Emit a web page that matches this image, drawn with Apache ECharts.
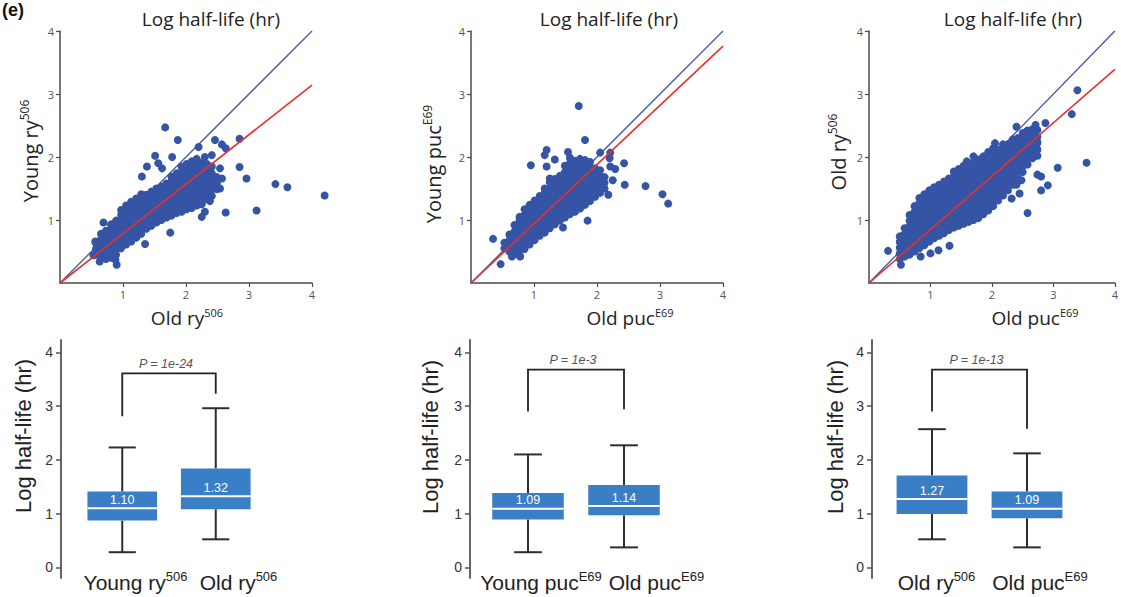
<!DOCTYPE html>
<html>
<head>
<meta charset="utf-8">
<script src="https://cdn.jsdelivr.net/npm/echarts@6/dist/echarts.min.js"></script>
<style>html,body{margin:0;padding:0;background:#fff}#c{width:1121px;height:597px}</style>
</head>
<body>
<div id="c"></div>
<script>
// ---------- DATA ----------
// Panel 1: Old ry506 (x) vs Young ry506 (y) — dense cloud as columns [x,[y...]] + outliers
const ryBlob = [
  [0.57,[0.45,0.54,0.63]],
  [0.65,[0.42,0.51,0.60,0.69,0.78]],
  [0.73,[0.38,0.47,0.57,0.66,0.74,0.83]],
  [0.81,[0.40,0.50,0.58,0.67,0.77,0.86,0.93]],
  [0.89,[0.45,0.54,0.64,0.72,0.81,0.91,0.99]],
  [0.97,[0.55,0.63,0.72,0.82,0.90,1.00,1.08,1.16]],
  [1.05,[0.61,0.70,0.78,0.88,0.96,1.05,1.15,1.23]],
  [1.13,[0.66,0.76,0.85,0.93,1.03,1.11,1.20,1.29]],
  [1.21,[0.72,0.80,0.90,0.98,1.08,1.17,1.25,1.34]],
  [1.29,[0.78,0.88,0.96,1.06,1.14,1.24,1.32,1.41]],
  [1.37,[0.86,0.94,1.04,1.12,1.22,1.30,1.40]],
  [1.45,[0.91,1.01,1.09,1.19,1.27,1.37,1.45]],
  [1.53,[0.96,1.04,1.14,1.22,1.32,1.40,1.50]],
  [1.61,[1.00,1.10,1.18,1.28,1.36,1.46,1.53]],
  [1.69,[1.04,1.12,1.22,1.30,1.40,1.48,1.58]],
  [1.77,[1.07,1.17,1.25,1.35,1.43,1.53,1.61,1.69]],
  [1.85,[1.11,1.19,1.29,1.37,1.47,1.55,1.65,1.74]],
  [1.93,[1.13,1.23,1.31,1.41,1.49,1.59,1.67,1.77,1.85]],
  [2.01,[1.17,1.25,1.35,1.43,1.53,1.61,1.71,1.79,1.89]],
  [2.09,[1.19,1.29,1.37,1.47,1.55,1.65,1.73,1.83,1.93]],
  [2.17,[1.23,1.31,1.41,1.49,1.59,1.67,1.77,1.86,1.97]],
  [2.25,[1.25,1.35,1.43,1.53,1.61,1.71,1.80,1.91]],
  [2.33,[1.33,1.41,1.51,1.59,1.69,1.78,1.89]],
  [2.41,[1.38,1.48,1.56,1.66,1.74,1.85]],
  [2.49,[1.49,1.58,1.68]]
];
const ryOutliers = [
  [1.67,2.47],[1.87,2.27],[2.46,2.27],[2.57,2.20],[2.85,2.29],[2.20,2.16],[1.78,2.00],[1.51,2.02],
  [1.56,1.90],[1.62,1.82],[1.38,1.85],[1.30,1.69],[2.85,1.84],[2.96,1.66],[3.42,1.57],[3.61,1.52],
  [4.20,1.39],[3.12,1.15],[2.63,1.12],[2.25,1.05],[2.30,1.13],[1.75,0.80],[1.35,0.62],[0.69,0.96],
  [2.54,1.50],[2.57,1.66],[2.54,1.82],[2.63,2.14],[2.41,2.03],[2.30,2.00],[2.38,1.30],[0.90,0.29],
  [0.88,0.37],[0.78,0.45],[0.63,0.34],[0.56,0.66],[0.63,0.66],[0.53,0.44]
];
// Panel 2: Old pucE69 (x) vs Young pucE69 (y)
const pucBlob = [
  [0.53,[0.55,0.64]],
  [0.61,[0.50,0.59,0.68,0.77]],
  [0.69,[0.46,0.55,0.64,0.73,0.82,0.92]],
  [0.77,[0.45,0.54,0.63,0.72,0.81,0.90,0.99,1.05]],
  [0.85,[0.54,0.63,0.72,0.81,0.90,0.99,1.08,1.17]],
  [0.93,[0.61,0.70,0.79,0.88,0.97,1.06,1.15,1.24]],
  [1.01,[0.68,0.77,0.86,0.95,1.04,1.13,1.22,1.31]],
  [1.09,[0.75,0.84,0.93,1.02,1.11,1.20,1.29,1.38]],
  [1.17,[0.80,0.89,0.98,1.07,1.16,1.25,1.34,1.43,1.50]],
  [1.25,[0.87,0.96,1.05,1.14,1.23,1.32,1.41,1.50,1.60,1.66]],
  [1.33,[0.93,1.02,1.11,1.20,1.29,1.38,1.47,1.56,1.65]],
  [1.41,[0.99,1.08,1.17,1.26,1.35,1.44,1.53,1.62,1.70]],
  [1.49,[1.04,1.13,1.22,1.31,1.40,1.49,1.58,1.67,1.76,1.86]],
  [1.57,[1.09,1.18,1.27,1.36,1.45,1.54,1.63,1.72,1.81,1.90,1.99]],
  [1.65,[1.13,1.22,1.31,1.40,1.49,1.58,1.67,1.76,1.85,1.94]],
  [1.73,[1.18,1.27,1.36,1.45,1.54,1.63,1.72,1.81,1.90,1.97]],
  [1.81,[1.24,1.33,1.42,1.51,1.60,1.69,1.78,1.87,1.95]],
  [1.89,[1.30,1.39,1.48,1.57,1.66,1.75,1.84,1.92]],
  [1.97,[1.37,1.46,1.55,1.64,1.73,1.82]],
  [2.05,[1.43,1.52,1.61,1.70,1.79]],
  [2.12,[1.50,1.59,1.68]]
];
const pucOutliers = [
  [1.71,2.81],[1.81,2.27],[1.20,2.11],[1.17,2.03],[1.33,1.96],[0.95,1.87],[1.20,1.85],[1.54,2.08],
  [2.05,2.07],[2.21,2.07],[2.20,1.98],[2.43,1.90],[2.21,1.85],[2.29,1.81],[2.25,1.63],[2.44,1.56],
  [2.77,1.54],[3.04,1.41],[3.13,1.26],[1.85,0.99],[1.46,0.88],[0.35,0.70],[0.47,0.30],[0.78,0.42],
  [0.65,0.42],[2.18,1.40]
];
// Panel 3: Old pucE69 (x) vs Old ry506 (y)
const oldBlob = [
  [0.50,[0.38,0.47,0.56,0.65,0.74]],
  [0.58,[0.42,0.51,0.60,0.69,0.78,0.87]],
  [0.66,[0.45,0.54,0.63,0.72,0.81,0.90,0.99,1.08]],
  [0.74,[0.50,0.59,0.68,0.77,0.86,0.95,1.04,1.13,1.22]],
  [0.82,[0.55,0.64,0.73,0.82,0.91,1.00,1.09,1.18,1.27,1.35]],
  [0.90,[0.60,0.69,0.78,0.87,0.96,1.05,1.14,1.23,1.32,1.41]],
  [0.98,[0.66,0.75,0.84,0.93,1.02,1.11,1.20,1.29,1.38,1.47]],
  [1.06,[0.71,0.80,0.89,0.98,1.07,1.16,1.25,1.34,1.43,1.52]],
  [1.14,[0.75,0.84,0.93,1.02,1.11,1.20,1.29,1.38,1.47,1.56]],
  [1.22,[0.79,0.88,0.97,1.06,1.15,1.24,1.33,1.42,1.51,1.61]],
  [1.30,[0.84,0.93,1.02,1.11,1.20,1.29,1.38,1.47,1.56,1.66]],
  [1.38,[0.88,0.97,1.06,1.15,1.24,1.33,1.42,1.51,1.60,1.69,1.77]],
  [1.46,[0.91,1.00,1.09,1.18,1.27,1.36,1.45,1.54,1.63,1.72,1.81]],
  [1.54,[0.94,1.03,1.12,1.21,1.30,1.39,1.48,1.57,1.66,1.75,1.86]],
  [1.62,[0.97,1.06,1.15,1.24,1.33,1.42,1.51,1.60,1.69,1.78,1.90]],
  [1.70,[1.00,1.09,1.18,1.27,1.36,1.45,1.54,1.63,1.72,1.81,1.92,2.01]],
  [1.78,[1.03,1.12,1.21,1.30,1.39,1.48,1.57,1.66,1.75,1.85,1.96]],
  [1.86,[1.09,1.18,1.27,1.36,1.45,1.54,1.63,1.72,1.81,1.91,2.01]],
  [1.94,[1.15,1.24,1.33,1.42,1.51,1.60,1.69,1.78,1.87,1.97,2.08]],
  [2.02,[1.22,1.31,1.40,1.49,1.58,1.67,1.76,1.85,1.94,2.05,2.14]],
  [2.10,[1.31,1.40,1.49,1.58,1.67,1.76,1.85,1.94,2.03,2.12]],
  [2.18,[1.39,1.48,1.57,1.66,1.75,1.84,1.93,2.02,2.11,2.20]],
  [2.26,[1.47,1.56,1.65,1.74,1.83,1.92,2.01,2.10,2.20]],
  [2.34,[1.56,1.65,1.74,1.83,1.92,2.01,2.10,2.19,2.28]],
  [2.42,[1.66,1.75,1.84,1.93,2.02,2.11,2.20,2.30]],
  [2.50,[1.76,1.85,1.94,2.03,2.12,2.21,2.31,2.38]],
  [2.58,[1.88,1.97,2.06,2.15,2.24,2.33,2.42]],
  [2.66,[1.98,2.07,2.16,2.25,2.35,2.44]],
  [2.74,[2.02,2.12,2.22,2.32,2.43]]
];
const oldOutliers = [
  [3.39,3.06],[3.30,2.68],[3.54,1.91],[3.07,1.83],[2.74,1.72],[2.80,1.69],[2.91,1.55],[2.80,1.47],
  [2.58,1.11],[2.45,1.42],[2.32,1.34],[2.48,1.63],[2.40,2.48],[2.56,2.40],[2.71,2.51],[2.87,2.54],
  [2.05,2.22],[1.59,1.93],[1.31,0.59],[1.00,0.47],[0.84,0.42],[0.31,0.51],[0.52,0.29],[1.13,0.52],
  [2.48,1.92],[2.40,1.56],[2.74,2.24]
];
// identity line and fitted (red) line value at x = 4
const identityEnd = [4, 4, 4];
const fitEnd = [3.14, 3.76, 3.39];
const scatterTicks = [1, 2, 3, 4];

// Box plots: [min, Q1, median, Q3, max]
const boxRy  = [[0.28,0.87,1.10,1.41,2.23],[0.52,1.08,1.32,1.84,2.96]];
const boxPuc = [[0.28,0.89,1.09,1.38,2.10],[0.37,0.97,1.14,1.53,2.27]];
const boxOld = [[0.52,0.99,1.27,1.71,2.57],[0.37,0.91,1.09,1.41,2.12]];
// Significance bracket: [top, left leg end, right leg end]
const bracketRy  = [3.61, 2.81, 3.23];
const bracketPuc = [3.68, 2.90, 2.94];
const bracketOld = [3.68, 2.90, 2.58];
const pLabels = ['P = 1e-24', 'P = 1e-3', 'P = 1e-13'];
const boxTicks = [0, 1, 2, 3, 4];

const boxCatMain = [['Young ry','Old ry'],['Young puc','Old puc'],['Old ry','Old puc']];
const boxCatSup  = [['506','506'],['E69','E69'],['506','E69']];
const scatterXMain = ['Old ry','Old puc','Old puc'];
const scatterXSup  = ['506','E69','E69'];
const scatterYMain = ['Young ry','Young puc','Old ry'];
const scatterYSup  = ['506','E69','506'];
const titleText = 'Log half-life (hr)';
const boxYName = 'Log half-life (hr)';

// ---------- BUILD ----------
function expand(cols, outs) {
  const pts = [];
  cols.forEach(c => c[1].forEach(y => pts.push([c[0], y])));
  return pts.concat(outs);
}
const scatterSets = [expand(ryBlob, ryOutliers), expand(pucBlob, pucOutliers), expand(oldBlob, oldOutliers)];
const boxSets = [boxRy, boxPuc, boxOld];
const bracketSets = [bracketRy, bracketPuc, bracketOld];

const TOPF = '"Open Sans", "DejaVu Sans", sans-serif';
const BOTF = '"Liberation Sans", Arial, sans-serif';
const DOT = '#3654a5';
const BOXC = '#3a7ec6';

const grids = [
  {left:60, top:31, width:252, height:252},
  {left:471, top:31, width:252, height:252},
  {left:869, top:31, width:251, height:252},
  {left:75.5, top:340, width:187, height:238},
  {left:480, top:340, width:192, height:238},
  {left:884.5, top:340, width:190, height:238}
];
const yOffsets = [14.5, 10, 12.5];

const xAxis = [], yAxis = [], series = [];
for (let i = 0; i < 3; i++) {
  const axLine = {lineStyle:{color:'#4a4a4a', width:1.5}};
  xAxis.push({
    gridIndex:i, type:'value', min:0, max:4, interval:1,
    axisLine:axLine,
    axisTick:{show:true, customValues:scatterTicks, length:4, lineStyle:{color:'#4a4a4a', width:1.2}},
    axisLabel:{customValues:scatterTicks, fontSize:11, color:'#555', margin:6, fontFamily:TOPF},
    splitLine:{show:false}
  });
  yAxis.push({
    gridIndex:i, type:'value', min:0, max:4, interval:1,
    axisLine:axLine,
    axisTick:{show:true, customValues:scatterTicks, length:4, lineStyle:{color:'#4a4a4a', width:1.2}},
    axisLabel:{customValues:scatterTicks, fontSize:11, color:'#555', margin:6, fontFamily:TOPF},
    splitLine:{show:false}
  });
  series.push({type:'line', xAxisIndex:i, yAxisIndex:i, data:[[0,0],[4,identityEnd[i]]], symbol:'none',
    lineStyle:{color:'#3d56a6', width:1.3}, z:1, silent:true});
  series.push({type:'scatter', xAxisIndex:i, yAxisIndex:i, data:scatterSets[i], symbolSize:8,
    itemStyle:{color:DOT, opacity:1}, clip:false, z:2, silent:true});
  series.push({type:'line', xAxisIndex:i, yAxisIndex:i, data:[[0,0],[4,fitEnd[i]]], symbol:'none',
    lineStyle:{color:'#e8302b', width:1.6}, z:3, silent:true});
}
for (let i = 0; i < 3; i++) {
  const g = 3 + i;
  xAxis.push({gridIndex:g, type:'category', data:boxCatMain[i], boundaryGap:true,
    axisLine:{show:false}, axisTick:{show:false}, axisLabel:{show:false}});
  yAxis.push({gridIndex:g, type:'value', min:-0.2, max:4.23, offset:yOffsets[i],
    axisLine:{show:true, lineStyle:{color:'#666', width:2}},
    axisTick:{show:true, customValues:boxTicks, length:5, lineStyle:{color:'#555', width:1.5}},
    axisLabel:{customValues:boxTicks, fontSize:14, color:'#333', margin:8, fontFamily:BOTF},
    splitLine:{show:false}});
  series.push({
    type:'custom', xAxisIndex:g, yAxisIndex:g,
    data: boxSets[i].map((b, k) => [k].concat(b)),
    encode:{x:0, y:[1,2,3,4,5]},
    silent:true,
    renderItem: function (params, api) {
      const k = api.value(0);
      const pMin = api.coord([k, api.value(1)]);
      const pQ1 = api.coord([k, api.value(2)]);
      const pMed = api.coord([k, api.value(3)]);
      const pQ3 = api.coord([k, api.value(4)]);
      const pMax = api.coord([k, api.value(5)]);
      const band = api.size([1, 0])[0];
      const bw = band * 0.745, cw = band * 0.29, cx = pMed[0];
      const ws = {stroke:'#2e2e2e', lineWidth:2};
      return {type:'group', children:[
        {type:'line', shape:{x1:cx, y1:pMax[1], x2:cx, y2:pQ3[1]}, style:ws},
        {type:'line', shape:{x1:cx, y1:pQ1[1], x2:cx, y2:pMin[1]}, style:ws},
        {type:'line', shape:{x1:cx-cw/2, y1:pMax[1], x2:cx+cw/2, y2:pMax[1]}, style:ws},
        {type:'line', shape:{x1:cx-cw/2, y1:pMin[1], x2:cx+cw/2, y2:pMin[1]}, style:ws},
        {type:'rect', shape:{x:cx-bw/2, y:pQ3[1], width:bw, height:pQ1[1]-pQ3[1]}, style:{fill:BOXC}},
        {type:'line', shape:{x1:cx-bw/2, y1:pMed[1], x2:cx+bw/2, y2:pMed[1]}, style:{stroke:'#fff', lineWidth:2}},
        {type:'text', x:cx, y:pMed[1]-2, style:{text:api.value(3).toFixed(2), fill:'#fff',
          fontSize:12.5, fontFamily:BOTF, align:'center', verticalAlign:'bottom',
          textAlign:'center', textVerticalAlign:'bottom'}}
      ]};
    }
  });
  const pl = pLabels[i];
  series.push({
    type:'custom', xAxisIndex:g, yAxisIndex:g,
    data:[[0, 1].concat(bracketSets[i])],
    encode:{x:[0,1], y:[2,3,4]},
    silent:true,
    renderItem: function (params, api) {
      const top = api.value(2), l = api.value(3), r = api.value(4);
      const a = api.coord([0, l]), b = api.coord([0, top]), c = api.coord([1, top]), d = api.coord([1, r]);
      return {type:'group', children:[
        {type:'polyline', shape:{points:[a, b, c, d]}, style:{stroke:'#222', lineWidth:1.8, fill:null}},
        {type:'text', x:(b[0]+c[0])/2 - 3, y:b[1]-3, style:{text:pl, fill:'#555',
          fontSize:12.5, fontStyle:'italic', fontFamily:BOTF, align:'center', verticalAlign:'bottom',
          textAlign:'center', textVerticalAlign:'bottom'}}
      ]};
    }
  });
}

// ---------- TEXT LAYOUT ----------
function supText(x, y, main, sup, size, supSize, family, rot) {
  return {type:'text', x:x, y:y, rotation:rot || 0, silent:true,
    style:{text:'{m|' + main + '}{s|' + sup + '}', align:'center', verticalAlign:'middle',
      textAlign:'center', textVerticalAlign:'middle',
      rich:{m:{fontSize:size, fontFamily:family, fill:'#222', lineHeight:Math.round(size*1.2)},
            s:{fontSize:supSize, fontFamily:family, fill:'#222', verticalAlign:'top', lineHeight:supSize+1}}}};
}
function plainText(x, y, txt, size, family, rot, weight) {
  return {type:'text', x:x, y:y, rotation:rot || 0, silent:true,
    style:{text:txt, fontSize:size, fontFamily:family, fontWeight:weight || 'normal', fill:'#222',
      align:'center', verticalAlign:'middle', textAlign:'center', textVerticalAlign:'middle'}};
}
const graphic = [];
graphic.push({type:'text', x:2, y:19, silent:true, style:{text:'(e)', fontSize:18, fontWeight:'bold',
  fontFamily:BOTF, fill:'#111', align:'left', verticalAlign:'bottom', textAlign:'left', textVerticalAlign:'bottom'}});
const titleX = [211, 609, 1013];
const xNameX = [187, 630, 1035];
const yNamePos = [[30,151],[433,164],[838,152]];
const boxYNamePos = [[23,436],[430,437],[835,437]];
const catX = [[135.5,238.5],[541,656.5],[936.5,1040]];
for (let i = 0; i < 3; i++) {
  graphic.push(plainText(titleX[i], 19, titleText, 19, TOPF));
  graphic.push(supText(xNameX[i], 318, scatterXMain[i], scatterXSup[i], 19, 11, TOPF));
  graphic.push(supText(yNamePos[i][0], yNamePos[i][1], scatterYMain[i], scatterYSup[i], 20, 12, TOPF, Math.PI/2));
  graphic.push(plainText(boxYNamePos[i][0], boxYNamePos[i][1], boxYName, 22, BOTF, Math.PI/2));
  for (let k = 0; k < 2; k++) {
    graphic.push(supText(catX[i][k], 582, boxCatMain[i][k], boxCatSup[i][k], 21, 13, BOTF));
  }
}

const chart = echarts.init(document.getElementById('c'), null, {renderer:'svg'});
chart.setOption({
  animation:false,
  backgroundColor:'#fff',
  grid:grids,
  xAxis:xAxis,
  yAxis:yAxis,
  series:series,
  graphic:graphic
});
</script>
</body>
</html>
